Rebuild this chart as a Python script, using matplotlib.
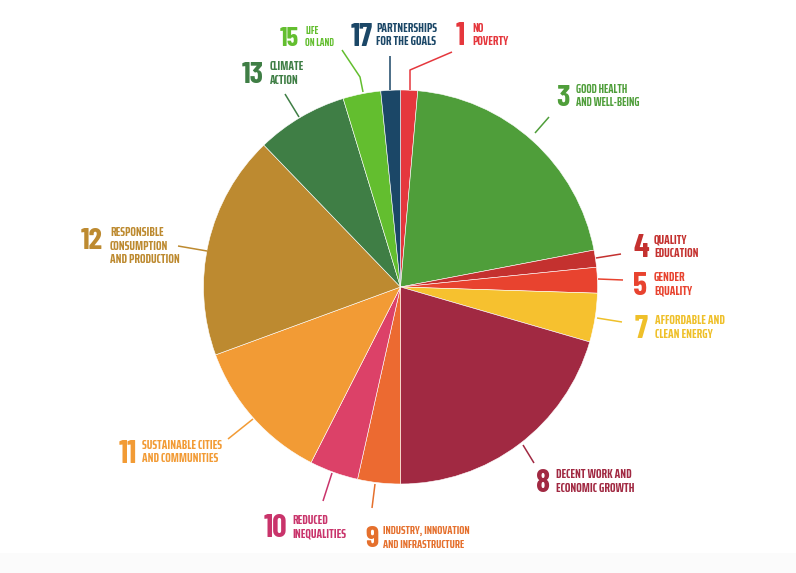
import matplotlib
matplotlib.use('Agg')
import matplotlib.pyplot as plt
from matplotlib.patches import Rectangle

# SDG share of the pie, clockwise from 12 o'clock (percent)
goals = ['1', '3', '4', '5', '7', '8', '9', '10', '11', '12', '13', '15', '17']
names = [['NO', 'POVERTY'], ['GOOD HEALTH', 'AND WELL-BEING'], ['QUALITY', 'EDUCATION'],
         ['GENDER', 'EQUALITY'], ['AFFORDABLE AND', 'CLEAN ENERGY'],
         ['DECENT WORK AND', 'ECONOMIC GROWTH'], ['INDUSTRY, INNOVATION', 'AND INFRASTRUCTURE'],
         ['REDUCED', 'INEQUALITIES'], ['SUSTAINABLE CITIES', 'AND COMMUNITIES'],
         ['RESPONSIBLE', 'CONSUMPTION', 'AND PRODUCTION'], ['CLIMATE', 'ACTION'],
         ['LIFE', 'ON LAND'], ['PARTNERSHIPS', 'FOR THE GOALS']]
shares = [1.4, 20.6, 1.4, 2.1, 4.0, 20.5, 3.5, 4.0, 11.9, 18.4, 7.5, 3.1, 1.6]
colors = ['#e5373d', '#4f9e3a', '#c4312f', '#e8432f', '#f6c12f', '#a12942', '#ec6a31',
          '#dc4168', '#f29b35', '#bd8a30', '#3f7e45', '#63be2f', '#1b4767']
text_colors = ['#e5373d', '#4f9e3a', '#c4312f', '#e8432f', '#efc02a', '#a12942', '#e5702d',
               '#c9346b', '#f29b35', '#bd8a30', '#3f7e45', '#63be2f', '#1b4767']

W, H = 796, 573
fig = plt.figure(figsize=(W / 100, H / 100), dpi=100)
fig.patch.set_facecolor('white')
fig.patches.append(Rectangle((0, 0), 1, 20 / H, transform=fig.transFigure,
                             facecolor='#fbfbfb', edgecolor='none', zorder=0))

cx, cy, r = 400.5, 287, 197
ax = fig.add_axes([(cx - r) / W, (H - cy - r) / H, 2 * r / W, 2 * r / H])
ax.pie(shares, colors=colors, startangle=90, counterclock=False,
       wedgeprops=dict(edgecolor='white', linewidth=0.4))
ax.set_xlim(-1, 1)
ax.set_ylim(-1, 1)
ax.axis('off')

# overlay in pixel coordinates for labels and leader lines
ov = fig.add_axes([0, 0, 1, 1], zorder=3)
ov.set_xlim(0, W)
ov.set_ylim(H, 0)
ov.axis('off')
ov.patch.set_alpha(0)

# number x, number baseline, text x, first text baseline, number size, text size
label_pos = {
    '1': (456, 45, 472, 31.7, 23, 9.5),
    '3': (556, 106, 576, 93, 22, 9),
    '4': (633, 256.7, 654, 243.3, 23, 9.5),
    '5': (633, 295, 654, 281, 23, 9.5),
    '7': (635, 338.3, 655, 324.3, 23, 9.5),
    '8': (536, 491.7, 556, 478, 23, 9.5),
    '9': (365, 546.7, 383, 534, 22, 8.8),
    '10': (264, 537.3, 292, 524, 23, 9.5),
    '11': (119, 462.7, 142, 449, 23, 9.5),
    '12': (81, 249.3, 110, 236, 22, 9.5),
    '13': (242, 82.7, 270, 70, 22, 9.5),
    '15': (280, 45.7, 305, 34.5, 19, 8),
    '17': (351, 46, 376, 31.7, 23, 9.5),
}
leaders = {
    '1': [(410, 90), (410, 70), (452, 52)],
    '3': [(535, 133), (549, 117)],
    '4': [(596, 258), (621, 254)],
    '5': [(598, 279), (623, 280)],
    '7': [(597, 318), (622, 322)],
    '8': [(523, 445), (534, 463)],
    '9': [(375, 484), (372, 508)],
    '10': [(332, 473), (323, 501)],
    '11': [(253, 419), (228, 439)],
    '12': [(207, 251), (178, 246)],
    '13': [(299, 117), (285, 94)],
    '15': [(363, 92), (360, 77), (342, 50)],
    '17': [(390, 90), (390, 56)],
}

num_fam = ['Barlow Condensed', 'DejaVu Sans']
txt_fam = ['Saira ExtraCondensed', 'Barlow Condensed', 'DejaVu Sans']
for g, lines, tc in zip(goals, names, text_colors):
    nx_, ny, tx, ty, ns, ts = label_pos[g]
    pts = leaders[g]
    ov.plot([p[0] for p in pts], [p[1] for p in pts], color=tc, lw=1.1, solid_capstyle='butt')
    ov.text(nx_, ny, g, color=tc, fontsize=ns, fontweight='bold', family=num_fam,
            va='baseline', ha='left')
    pitch = 13.5 if ts > 8.5 else 11
    for i, line in enumerate(lines):
        ov.text(tx, ty + i * pitch, line, color=tc, fontsize=ts, fontweight='bold',
                family=txt_fam, va='baseline', ha='left')

fig.savefig('out.png', dpi=100, facecolor='white')
